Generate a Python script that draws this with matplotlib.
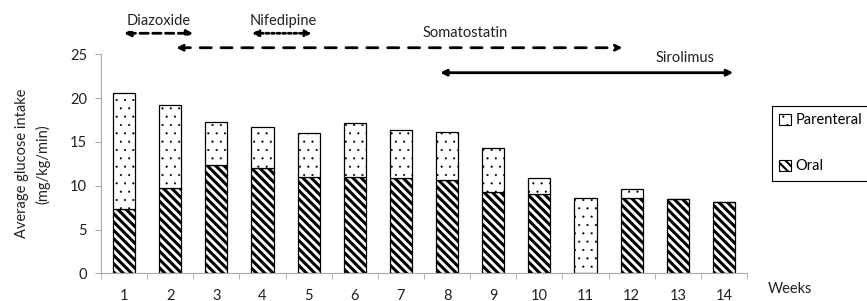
import numpy as np
import matplotlib
matplotlib.use('Agg')
import matplotlib.pyplot as plt
from matplotlib.patches import Patch

plt.rcParams['font.family'] = ['Lato', 'DejaVu Sans']

weeks = [str(w) for w in range(1, 15)]
oral = [7.3, 9.7, 12.4, 12.0, 11.0, 11.0, 10.9, 10.7, 9.25, 9.1, 0.0, 8.55, 8.5, 8.1]
total = [20.6, 19.2, 17.3, 16.7, 16.0, 17.2, 16.4, 16.1, 14.3, 10.9, 8.6, 9.6, 8.5, 8.1]
parenteral = [t - o for t, o in zip(total, oral)]

# (label, start week, end week, arrow y, text x, text y, linestyle)
therapies = [
    ('Diazoxide', 1.0, 2.5, 27.4, 1.75, 28.8, (0, (3, 1.6))),
    ('Nifedipine', 3.77, 5.07, 27.4, 4.45, 28.8, (0, (1, 1))),
    ('Somatostatin', 2.13, 11.8, 25.75, 8.4, 27.4, (0, (4, 3.5))),
    ('Sirolimus', 7.85, 14.2, 22.9, 13.15, 24.55, 'solid'),
]

ORAL_HATCH = '\\\\\\\\'
PAR_HATCH = '..'
FS = 10.5


def hatch_lw(artists, lw):
    for a in artists:
        a.set_hatch_linewidth(lw)


fig = plt.figure(figsize=(8.67, 3.01), dpi=100)
ax = fig.add_axes([101 / 867, 1 - 273.3 / 301, 646 / 867, 219 / 301])

x = np.arange(1, 15)
b_oral = ax.bar(x, oral, width=0.48, color='white', edgecolor='black', linewidth=0.9,
                hatch=ORAL_HATCH)
b_par = ax.bar(x, parenteral, bottom=oral, width=0.48, color='white', edgecolor='black',
               linewidth=0.9, hatch=PAR_HATCH)
hatch_lw(b_oral, 2.2)
hatch_lw(b_par, 0.3)

ax.set_xlim(0.5, 14.5)
ax.set_ylim(0, 25)
ax.set_yticks([0, 5, 10, 15, 20, 25])
ax.set_xticks(x)
ax.set_xticklabels(weeks)
ax.set_xticks(np.arange(0.5, 15, 1), minor=True)
ax.tick_params(axis='x', which='major', length=0, pad=11, labelsize=FS, colors='#222222')
ax.tick_params(axis='x', which='minor', length=4, color='#aaaaaa', direction='out')
ax.tick_params(axis='y', length=4, color='#aaaaaa', labelsize=FS, labelcolor='#222222', pad=6)
for s in ['top', 'right']:
    ax.spines[s].set_visible(False)
for s in ['left', 'bottom']:
    ax.spines[s].set_color('#aaaaaa')
    ax.spines[s].set_linewidth(0.8)

ax.set_ylabel('Average glucose intake\n(mg/kg/min)', fontsize=FS, color='#222222',
              linespacing=1.55, labelpad=14)
ax.text(14.95, -1.75, 'Weeks', fontsize=FS, color='#222222', va='center', ha='left',
        clip_on=False)

for label, x0, x1, ya, xt, yt, ls in therapies:
    ax.annotate('', xy=(x1, ya), xytext=(x0, ya), annotation_clip=False,
                arrowprops=dict(arrowstyle='<|-|>', color='black', lw=2.0,
                                linestyle=ls, mutation_scale=9, shrinkA=0, shrinkB=0))
    ax.text(xt, yt, label, fontsize=FS, color='#222222', ha='center', va='center',
            clip_on=False)

handles = [Patch(facecolor='white', edgecolor='black', hatch=PAR_HATCH, linewidth=0.8),
           Patch(facecolor='white', edgecolor='black', hatch=ORAL_HATCH, linewidth=0.8)]
leg = fig.legend(handles, ['Parenteral', 'Oral'], loc='upper left',
                 bbox_to_anchor=(772 / 867, 1 - 106 / 301), borderaxespad=0,
                 fontsize=FS, labelspacing=2.2, handlelength=0.8, handleheight=0.8,
                 handletextpad=0.3, borderpad=0.5, fancybox=False, framealpha=1)
leg.get_frame().set_edgecolor('black')
leg.get_frame().set_linewidth(0.8)
hatch_lw(leg.legend_handles[:1], 0.3)
hatch_lw(leg.legend_handles[1:], 1.5)

fig.savefig('out.png', dpi=100)
